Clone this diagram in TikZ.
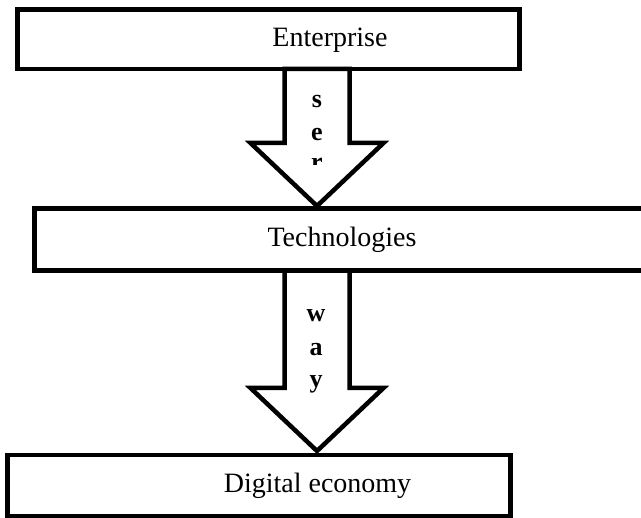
\documentclass[tikz,border=0pt]{standalone}
\usepackage{fontspec}
\setmainfont{Liberation Serif}
\begin{document}
\begin{tikzpicture}[x=1pt,y=-1pt,
  box/.style={draw=black,line width=4.5pt},
  bigarrow/.style={draw=black,line width=4.5pt,fill=white,line join=miter},
  label/.style={font=\fontsize{28}{32}\selectfont,anchor=base,inner sep=0pt},
  letter/.style={font=\fontsize{26}{30}\selectfont\bfseries,anchor=base,inner sep=0pt}]
\useasboundingbox (0,0) rectangle (641,518);
\begin{scope}
\clip (0,0) rectangle (641,518);
% arrows
\draw[bigarrow] (284.5,69) -- (284.5,143) -- (250.5,143) -- (317,206) -- (383.5,143) -- (349.5,143) -- (349.5,69) -- cycle;
\draw[bigarrow] (284.5,270.5) -- (284.5,388) -- (250.5,388) -- (317,451) -- (383.5,388) -- (349.5,388) -- (349.5,270.5) -- cycle;
% boxes
\draw[box] (17.5,9.5) rectangle (519.5,69);
\draw[box] (34.5,208.5) rectangle (660,270.5);
\draw[box] (7.5,455) rectangle (510.5,516);
\end{scope}
\node[label] (ent) at (330,47) {Enterprise};
\node[label] (tech) at (342,247) {Technologies};
\node[label] (dig) at (317.5,493) {Digital economy};
\node[letter] (s) at (317,108) {s};
\node[letter] (e) at (317,141) {e};
\begin{scope}
\clip (290,150) rectangle (345,164.5);
\node[letter] (r) at (317,171) {r};
\end{scope}
\node[letter] (w) at (316,322) {w};
\node[letter] (a) at (316,356) {a};
\node[letter] (y) at (316,388) {y};
\end{tikzpicture}
\end{document}
